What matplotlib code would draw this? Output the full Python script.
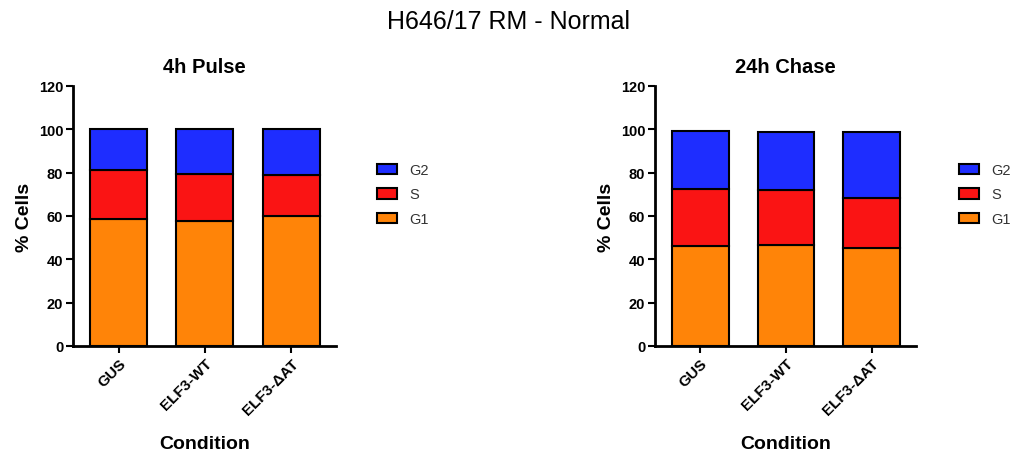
import matplotlib
matplotlib.use("Agg")
import matplotlib.pyplot as plt
from matplotlib.patches import Patch

plt.rcParams['font.family'] = ['Liberation Sans', 'DejaVu Sans']

conditions = ["GUS", "ELF3-WT", "ELF3-\u0394AT"]
phases = ["G1", "S", "G2"]
colors = {"G1": "#FF8408", "S": "#FA1414", "G2": "#1E2DFF"}

pulse_g1 = [58.6, 57.8, 60.1]
pulse_s = [22.7, 21.8, 19.0]
pulse_g2 = [18.7, 20.4, 20.9]

chase_g1 = [46.1, 46.5, 45.4]
chase_s = [26.4, 25.5, 22.9]
chase_g2 = [26.9, 26.9, 30.6]

W, H = 1017, 460
fig = plt.figure(figsize=(W / 100, H / 100), dpi=100)


def px_axes(x0, x1, y0, y1):
    return fig.add_axes([x0 / W, 1 - y1 / H, (x1 - x0) / W, (y1 - y0) / H])


def draw_panel(ax, title, g1, s, g2, x0, x1):
    x = list(range(len(conditions)))
    bottom = [0.0] * len(conditions)
    for name, vals in zip(phases, [g1, s, g2]):
        ax.bar(x, vals, bottom=bottom, width=0.66, color=colors[name],
               edgecolor="black", linewidth=1.5, zorder=2)
        bottom = [b + v for b, v in zip(bottom, vals)]
    ax.set_xlim(-0.53, 2.52)
    ax.set_ylim(0, 120)
    ax.set_yticks(range(0, 121, 20))
    ax.set_xticks(x)
    ax.set_xticklabels(conditions, rotation=45, ha="right", va="top",
                       rotation_mode="anchor", fontweight="bold", fontsize=11)
    for lab in ax.get_yticklabels():
        lab.set_fontweight("bold")
        lab.set_fontsize(10.5)
    ax.spines["top"].set_visible(False)
    ax.spines["right"].set_visible(False)
    for sp in ("left", "bottom"):
        ax.spines[sp].set_linewidth(2)
    ax.tick_params(axis="both", direction="out", length=5, width=1.5, pad=2)
    ax.set_title(title, fontweight="bold", fontsize=14.5, pad=10)
    ax.set_ylabel("% Cells", fontweight="bold", fontsize=14, labelpad=4)
    ax.set_xlabel("Condition", fontweight="bold", fontsize=14, labelpad=13)
    handles = [Patch(facecolor=colors[p], edgecolor="black", linewidth=1.5, label=p)
               for p in reversed(phases)]
    lx = 304 / (x1 - x0)
    ly = (347 - 164) / 260
    ax.legend(handles=handles, loc="upper left", bbox_to_anchor=(lx, ly),
              frameon=False, borderpad=0, borderaxespad=0,
              fontsize=10.5, handlelength=1.4, handleheight=0.7,
              labelspacing=0.72, handletextpad=0.8, labelcolor="#333333")


ax1 = px_axes(73, 336, 87, 347)
ax2 = px_axes(655, 916, 87, 347)
draw_panel(ax1, "4h Pulse", pulse_g1, pulse_s, pulse_g2, 73, 336)
draw_panel(ax2, "24h Chase", chase_g1, chase_s, chase_g2, 655, 916)

fig.suptitle("H646/17 RM - Normal", fontsize=18, y=1 - 22 / H, va="center")

fig.savefig("out.png", dpi=100)
